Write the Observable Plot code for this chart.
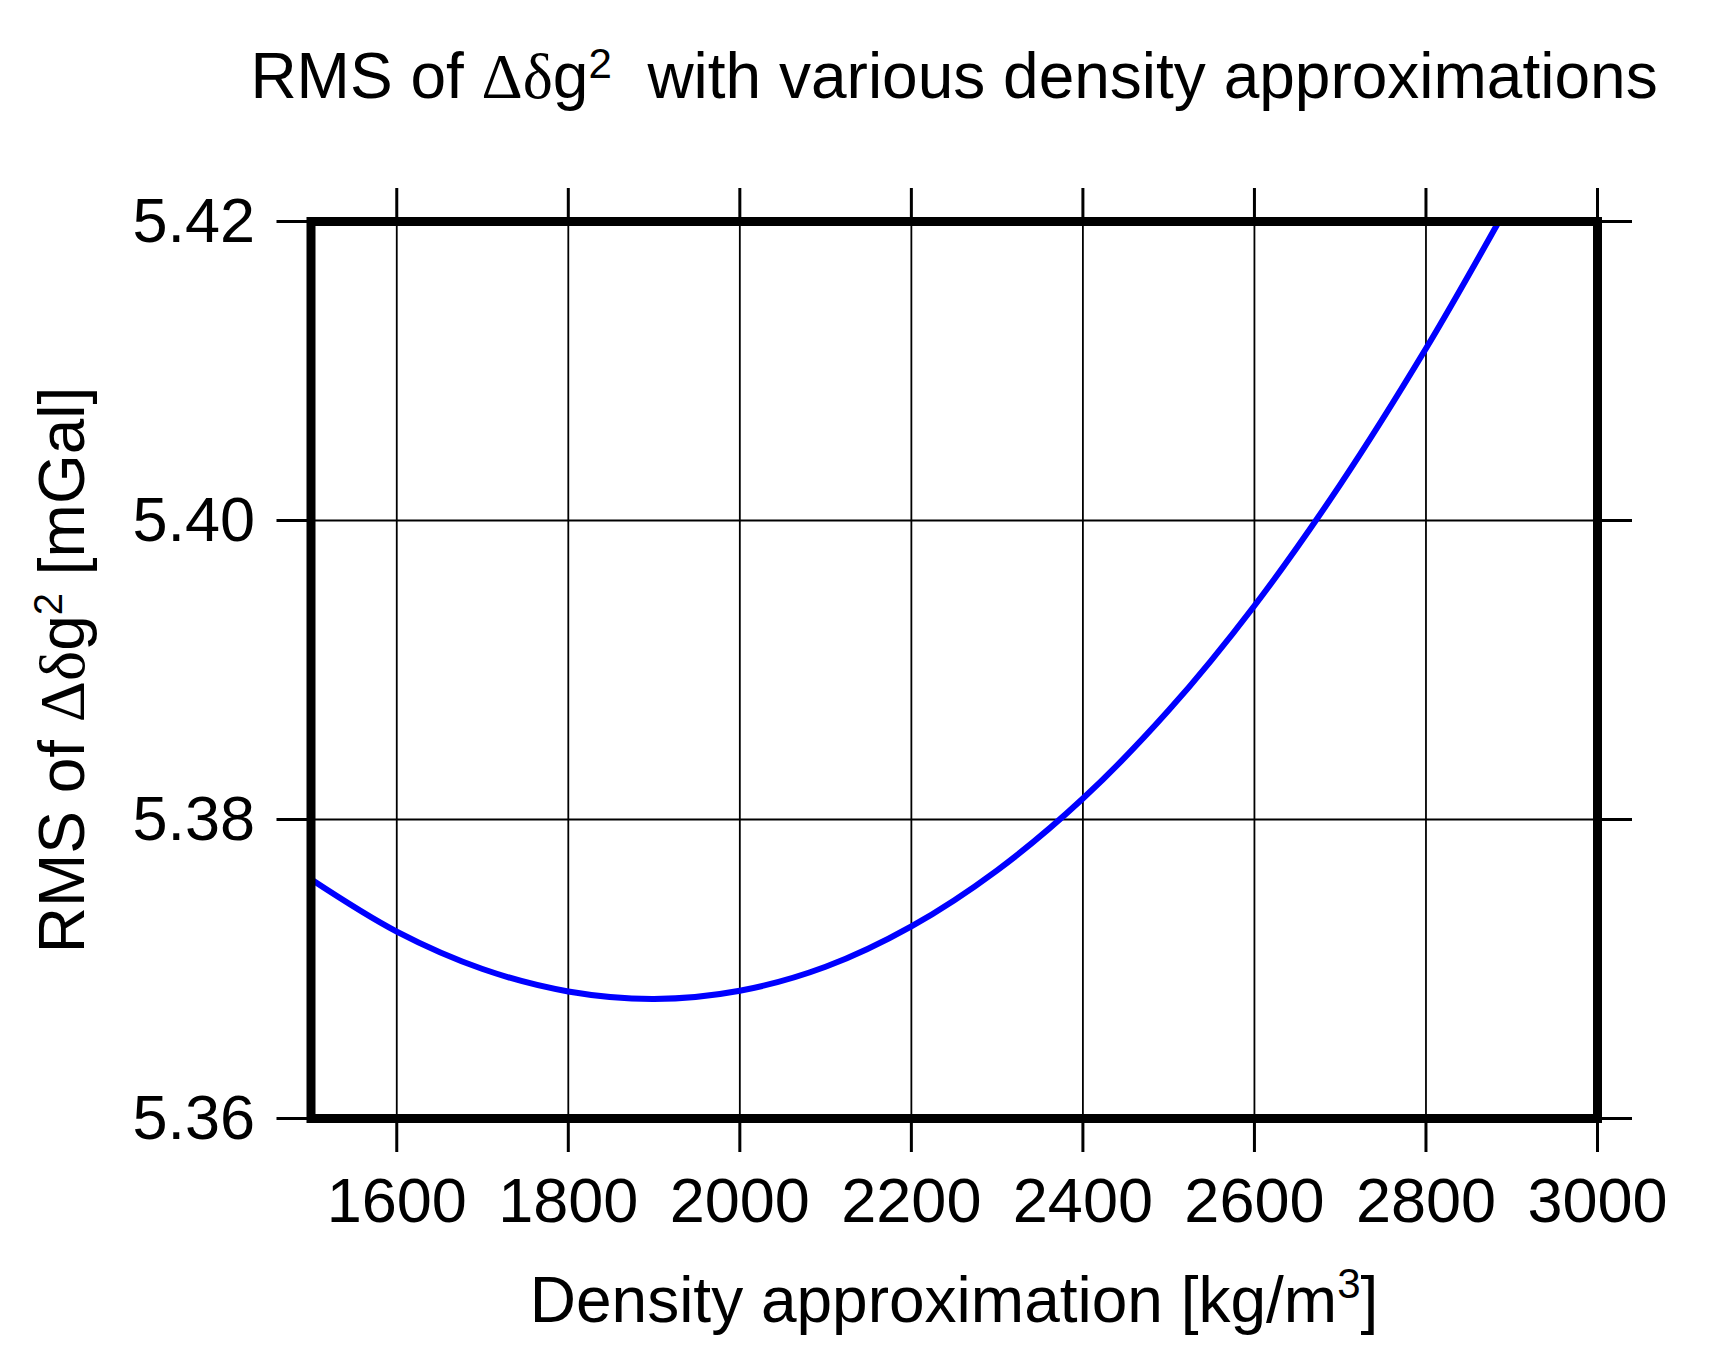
<!DOCTYPE html>
<html><head><meta charset="utf-8">
<script src="https://cdn.jsdelivr.net/npm/d3@7"></script>
<script src="https://cdn.jsdelivr.net/npm/@observablehq/plot@0.6"></script>
<style>body{margin:0;background:#fff}</style>
</head><body><div id="chart"></div>
<script>
// Data
const density = [1500, 1600, 1700, 1800, 1900, 2000, 2100, 2200, 2300, 2400, 2500, 2600, 2700, 2800, 2885];
const rms     = [5.3760, 5.3725, 5.3700, 5.3685, 5.3680, 5.36855, 5.37015, 5.37285, 5.3766, 5.3814, 5.3873, 5.3943, 5.4024, 5.4115, 5.4200];
const xTicks = [1600, 1800, 2000, 2200, 2400, 2600, 2800, 3000];
const yTicks = [5.36, 5.38, 5.40, 5.42];
const titleText = {pre: "RMS of ", greek: "\u0394\u03b4", after: "g", sup: "2", post: "  with various density approximations"};
const xLabelText = {pre: "Density approximation [kg/m", greek: "", after: "", sup: "3", post: "]"};
const yLabelText = {pre: "RMS of ", greek: "\u0394\u03b4", after: "g", sup: "2", post: " [mGal]"};

const data = density.map((d, i) => ({density: d, rms: rms[i]}));
const FONT = "'Liberation Sans', Arial, Helvetica, sans-serif";
const SERIF = "'Liberation Serif', 'Times New Roman', serif";

const chart = Plot.plot({
  width: 1713, height: 1363,
  marginLeft: 310.5, marginRight: 116, marginTop: 221, marginBottom: 245,
  style: {fontFamily: FONT, background: "#fff", color: "#000"},
  x: {domain: [1500, 3000]},
  y: {domain: [5.36, 5.42]},
  marks: [
    Plot.gridX(xTicks, {stroke: "#000", strokeOpacity: 1, strokeWidth: 1.8}),
    Plot.gridY(yTicks, {stroke: "#000", strokeOpacity: 1, strokeWidth: 1.8}),
    Plot.line(data, {x: "density", y: "rms", stroke: "#0000ff", strokeWidth: 6, curve: "catmull-rom"}),
    Plot.frame({stroke: "#000", strokeWidth: 9}),
    Plot.axisX(xTicks, {anchor: "bottom", tickSize: 34, tickPadding: 25, fontSize: 63, strokeWidth: 3, label: null, tickFormat: d => String(d)}),
    Plot.axisX(xTicks, {anchor: "top", tickSize: 34, tickFormat: () => "", label: null, strokeWidth: 3}),
    Plot.axisY(yTicks, {anchor: "left", tickSize: 34, tickPadding: 22, fontSize: 63, strokeWidth: 3, label: null, tickFormat: d3.format(".2f")}),
    Plot.axisY(yTicks, {anchor: "right", tickSize: 34, tickFormat: () => "", label: null, strokeWidth: 3})
  ]
});
document.getElementById("chart").appendChild(chart);

const svg = d3.select(chart);
function richText(g, parts, size, supSize, supRaise) {
  const t = g.append("text").style("font-family", FONT).style("font-size", size + "px").attr("fill", "#000")
    .attr("text-anchor", "middle").style("white-space", "pre");
  t.append("tspan").text(parts.pre);
  if (parts.greek) t.append("tspan").style("font-family", SERIF).text(parts.greek);
  if (parts.after) t.append("tspan").text(parts.after);
  t.append("tspan").style("font-size", supSize + "px").attr("dy", -supRaise).text(parts.sup);
  t.append("tspan").attr("dy", supRaise).text(parts.post);
  return t;
}
// Title
richText(svg.append("g").attr("transform", "translate(954,98)"), titleText, 64, 42, 20);
// Y label
richText(svg.append("g").attr("transform", "translate(84,670) rotate(-90)"), yLabelText, 64, 40, 22);
// X label
richText(svg.append("g").attr("transform", "translate(954,1322)"), xLabelText, 64, 42, 24);
</script>
</body></html>
